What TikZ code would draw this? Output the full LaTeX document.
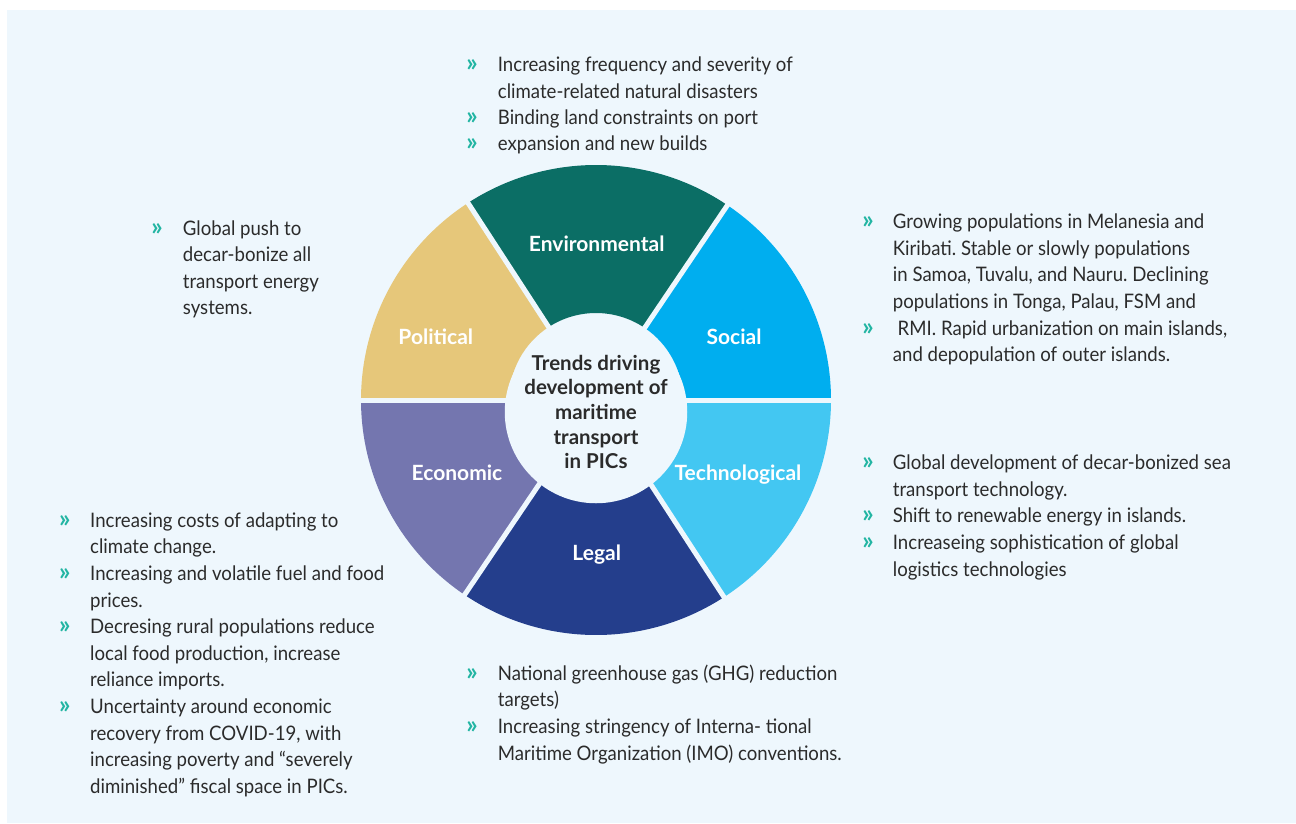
\documentclass[tikz,border=0pt]{standalone}
\usepackage{fontspec}
\setmainfont{Lato}
\newfontfamily\bodyfont[FakeStretch=0.93]{Lato}
\definecolor{bgc}{HTML}{EEF7FD}
\definecolor{envc}{HTML}{0B6E65}
\definecolor{socc}{HTML}{00AEEF}
\definecolor{tecc}{HTML}{43C7F2}
\definecolor{legc}{HTML}{243E8C}
\definecolor{ecoc}{HTML}{7476AF}
\definecolor{polc}{HTML}{E6C77A}
\definecolor{bulc}{HTML}{22B5A3}
\definecolor{txtc}{HTML}{2B2B2B}
\newcommand\mysector[3]{\fill[#1] (#2:87) -- (#2:235) arc[start angle=#2, end angle=#3, radius=235] -- (#3:87) arc[start angle=#3, end angle=#2, radius=87] -- cycle;}
\newcommand\tline[4]{\node[txt] (#1) at (#2,#3) {#4};}
\newcommand\bul[3]{\node[bul] (#1) at (#2,#3) {»};}
\frenchspacing
\begin{document}
\begin{tikzpicture}[x=1pt,y=-1pt,
  txt/.style={anchor=base west, inner sep=0pt, text=txtc, font=\bodyfont\fontsize{20}{24}\selectfont},
  bul/.style={anchor=base, inner sep=0pt, text=bulc, font=\fontsize{25}{25}\selectfont\bfseries},
  lab/.style={anchor=base, inner sep=0pt, text=white, font=\fontsize{21}{24}\selectfont\bfseries},
  gap/.style={bgc, line width=5pt}]
\useasboundingbox (0,0) rectangle (1296,823);
\fill[bgc] (7,10) rectangle (1296,823);
\begin{scope}[shift={(596,400)}]
  \mysector{polc}{-123}{-180}
  \mysector{envc}{-56}{-123}
  \mysector{socc}{0}{-56}
  \mysector{tecc}{57}{0}
  \mysector{legc}{124}{57}
  \mysector{ecoc}{180}{124}
  \foreach \a in {0,-56,-123,180,124,57} \draw[gap] (\a:80) -- (\a:240);
\end{scope}
\node[circle, fill=bgc, minimum size=174pt, inner sep=0pt, align=center, text=txtc,
  font=\fontsize{20.5}{24.6}\selectfont\bfseries] (hub) at (596,412) {Trends driving\\development of\\maritime\\transport\\in PICs};
\node[lab] (env) at (596.7,251.7) {Environmental};
\node[lab] (pol) at (435.8,344) {Political};
\node[lab] (soc) at (734,344) {Social};
\node[lab] (eco) at (457,480.7) {Economic};
\node[lab] (tec) at (738,480.7) {Technological};
\node[lab] (leg) at (596.7,560) {Legal};
% top
\bul{bt1}{472}{71.7}\tline{t1}{497.7}{71.7}{Increasing frequency and severity of}
\tline{t2}{497.7}{98.1}{climate-related natural disasters}
\bul{bt3}{472}{124.5}\tline{t3}{497.7}{124.5}{Binding land constraints on port}
\bul{bt4}{472}{150.9}\tline{t4}{497.7}{150.9}{expansion and new builds}
% political
\bul{bp1}{157}{235}\tline{p1}{182.7}{235}{Global push to}
\tline{p2}{182.7}{261.6}{decar-bonize all}
\tline{p3}{182.7}{288.2}{transport energy}
\tline{p4}{182.7}{314.8}{systems.}
% social
\bul{bs1}{868}{228.3}\tline{s1}{892.7}{228.3}{Growing populations in Melanesia and}
\tline{s2}{892.7}{255}{Kiribati. Stable or slowly populations}
\tline{s3}{892.7}{281.7}{in Samoa, Tuvalu, and Nauru. Declining}
\tline{s4}{892.7}{308.4}{populations in Tonga, Palau, FSM and}
\bul{bs5}{868}{335.1}\tline{s5}{897.5}{335.1}{RMI. Rapid urbanization on main islands,}
\tline{s6}{892.7}{361.8}{and depopulation of outer islands.}
% technological
\bul{bc1}{868}{469.3}\tline{c1}{892.7}{469.3}{Global development of decar-bonized sea}
\tline{c2}{892.7}{496}{transport technology.}
\bul{bc3}{868}{522.7}\tline{c3}{892.7}{522.7}{Shift to renewable energy in islands.}
\bul{bc4}{868}{549.4}\tline{c4}{892.7}{549.4}{Increaseing sophistication of global}
\tline{c5}{892.7}{576.1}{logistics technologies}
% economic
\bul{be1}{64.7}{527.3}\tline{e1}{90}{527.3}{Increasing costs of adapting to}
\tline{e2}{90}{553.9}{climate change.}
\bul{be3}{64.7}{580.5}\tline{e3}{90}{580.5}{Increasing and volatile fuel and food}
\tline{e4}{90}{607.1}{prices.}
\bul{be5}{64.7}{633.7}\tline{e5}{90}{633.7}{Decresing rural populations reduce}
\tline{e6}{90}{660.3}{local food production, increase}
\tline{e7}{90}{686.9}{reliance imports.}
\bul{be8}{64.7}{713.5}\tline{e8}{90}{713.5}{Uncertainty around economic}
\tline{e9}{90}{740.1}{recovery from COVID-19, with}
\tline{e10}{90}{766.7}{increasing poverty and “severely}
\tline{e11}{90}{793.3}{diminished” fiscal space in PICs.}
% legal
\bul{bl1}{472}{680}\tline{l1}{497.7}{680}{National greenhouse gas (GHG) reduction}
\tline{l2}{497.7}{706.7}{targets)}
\bul{bl3}{472}{733.4}\tline{l3}{497.7}{733.4}{Increasing stringency of Interna- tional}
\tline{l4}{497.7}{760.1}{Maritime Organization (IMO) conventions.}
\end{tikzpicture}
\end{document}
